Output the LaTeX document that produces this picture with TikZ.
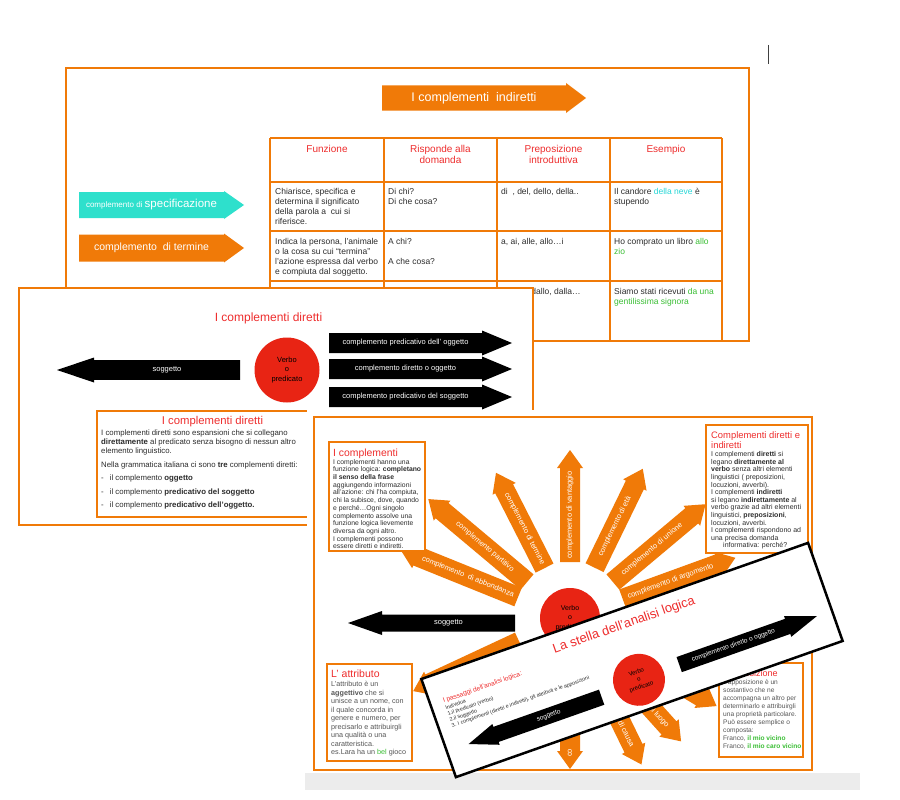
\documentclass[tikz,border=0pt]{standalone}
\usepackage{fontspec}
\setmainfont{Liberation Sans}
\definecolor{slideorange}{RGB}{240,122,8}
\definecolor{titlered}{RGB}{238,45,45}
\definecolor{verbred}{RGB}{232,36,20}
\definecolor{specicyan}{RGB}{46,224,204}
\definecolor{nevecyan}{RGB}{38,214,214}
\definecolor{examplegreen}{RGB}{58,190,52}
\definecolor{bodygray}{RGB}{85,85,85}
\definecolor{bodydark}{RGB}{45,45,45}
\definecolor{screengray}{RGB}{236,236,236}

\newcommand{\fs}[2]{\fontsize{#1}{#2}\selectfont}

\newcommand{\fatarrow}[8]{%
  \begin{scope}[shift={#3}, rotate=#4]
    \fill[#2] (0,-#6) -- ({#5-#8},-#6) -- ({#5-#8},-#7) -- (#5,0) -- ({#5-#8},#7) -- ({#5-#8},#6) -- (0,#6) -- cycle;
    \coordinate (#1) at ({(#5-#8)/2},0);
  \end{scope}}

\newcommand{\starray}[6]{%
  \begin{scope}[shift={(starc)}, rotate=#2]
    \fill[slideorange] (56,-10) -- ({#3-18},-10) -- ({#3-18},-13) -- (#3,0) -- ({#3-18},13) -- ({#3-18},10) -- (56,10) -- cycle;
    \node[raytext, #5] (#1) at (#4,0) {#6};
  \end{scope}}

\begin{document}
\begin{tikzpicture}[x=1pt, y=-1pt, every node/.style={inner sep=0pt},
    slidebox/.style={draw=slideorange, line width=2.5pt, fill=white},
    textbox/.style={draw=slideorange, line width=1.8pt, fill=white},
    tableline/.style={draw=slideorange, line width=1.6pt},
    headtext/.style={anchor=north, align=center, text=titlered, font={\fs{10}{10.7}}},
    celltext/.style={anchor=north west, align=left, text=bodydark, font={\fs{8.5}{10}}},
    boxbody/.style={anchor=north west, align=left},
    arrowtext/.style={text=white, font={\fs{7.5}{9}}},
    raytext/.style={text=white, font={\fs{7.5}{9}}},
    verbcircle/.style={circle, fill=verbred, align=center}]
  \useasboundingbox (0,0) rectangle (900,800);
  \fill[white] (0,0) rectangle (900,800);
  \fill[screengray] (305,773) rectangle (860,790);
  \draw[darkgray, line width=1pt] (768,45) -- (768,64);

  \filldraw[slidebox] (66,68) rectangle (749,341);
  \fatarrow{indirarrow}{slideorange}{(382,98)}{0}{204}{12.5}{15}{20}
  \node[text=white, font={\fs{12.5}{14}}] (indirtitle) at (indirarrow) {I complementi\ \ indiretti};
  \foreach \tx in {270,384,497,610,722} \draw[tableline] (\tx,138) -- (\tx,341);
  \foreach \ty in {138,182,231,281} \draw[tableline] (270,\ty) -- (722,\ty);
  \node[headtext] (hfunz) at (327,145.5) {Funzione};
  \node[headtext] (hrisp) at (440.5,145.5) {Risponde alla\\domanda};
  \node[headtext] (hprep) at (553.5,145.5) {Preposizione\\introduttiva};
  \node[headtext] (hesem) at (666,145.5) {Esempio};
  \node[celltext] (funz1) at (275,188) {Chiarisce, specifica e\\determina il significato\\della parola a\ \ cui si\\riferisce.};
  \node[celltext] (risp1) at (388,188) {Di chi?\\Di che cosa?};
  \node[celltext] (prep1) at (501,188) {di\ \ , del, dello, della..};
  \node[celltext] (esem1) at (614,188) {Il candore \textcolor{nevecyan}{della neve} è\\stupendo};
  \node[celltext] (funz2) at (275,238) {Indica la persona, l’animale\\o la cosa su cui “termina”\\l’azione espressa dal verbo\\e compiuta dal soggetto.};
  \node[celltext] (risp2) at (388,238) {A chi?\\[10pt]A che cosa?};
  \node[celltext] (prep2) at (501,238) {a, ai, alle, allo…i};
  \node[celltext] (esem2) at (614,238) {Ho comprato un libro \textcolor{examplegreen}{allo}\\\textcolor{examplegreen}{zio}};
  \node[celltext] (prep3) at (501,288) {da, dal, dallo, dalla…};
  \node[celltext] (esem3) at (614,288) {Siamo stati ricevuti \textcolor{examplegreen}{da una}\\\textcolor{examplegreen}{gentilissima signora}};
  \fatarrow{specarrow}{specicyan}{(79,205)}{0}{165}{13}{14}{20}
  \node[text=white] (speclab) at (specarrow) {{\fs{8}{9}complemento di }{\fs{11.5}{13}specificazione}};
  \fatarrow{termarrow}{slideorange}{(79,248)}{0}{165}{13.5}{14.5}{20}
  \node[text=white, font={\fs{10.5}{12}}] (termlab) at (termarrow) {complemento\ \ di termine};

  \filldraw[slidebox] (19,288) rectangle (533,525);
  \node[text=titlered, font={\fs{12}{14}}] (dirtitle) at (268.5,318) {I complementi diretti};
  \fatarrow{soggarrow}{black}{(240,370)}{180}{183}{9.8}{12.5}{37}
  \node[arrowtext] (sogglab) at (soggarrow) {soggetto};
  \node[verbcircle, minimum size=65pt, font={\fs{7.5}{9.7}}] (verbo2) at (287,370) {Verbo\\o\\predicato};
  \fatarrow{predogg}{black}{(329,343)}{0}{183}{10}{12.5}{30}
  \node[arrowtext] (predogglab) at (predogg) {complemento predicativo dell’ oggetto};
  \fatarrow{dirogg}{black}{(329,369)}{0}{183}{10}{12.5}{30}
  \node[arrowtext] (dirogglab) at (dirogg) {complemento diretto o oggetto};
  \fatarrow{predsogg}{black}{(329,397)}{0}{183}{10}{12.5}{30}
  \node[arrowtext] (predsogglab) at (predsogg) {complemento predicativo del soggetto};
  \filldraw[textbox] (97,411) rectangle (330,517);
  \node[text=titlered, font={\fs{11.3}{13}}] (dirboxtitle) at (212.5,421.5) {I complementi diretti};
  \node[boxbody, text=bodydark, font={\fs{7.8}{8.6}}] (dirboxtext) at (101,430) {I complementi diretti sono espansioni che si collegano\\\textbf{direttamente} al predicato senza bisogno di nessun altro\\elemento linguistico.\\[5.5pt]Nella grammatica italiana ci sono \textbf{tre} complementi diretti:\\[4.8pt]-\hspace{6pt}il complemento \textbf{oggetto}\\[5.2pt]-\hspace{6pt}il complemento \textbf{predicativo del soggetto}\\[4.6pt]-\hspace{6pt}il complemento \textbf{predicativo dell’oggetto.}};

  \fill[white] (307,410) rectangle (817,773);
  \draw[slideorange, line width=2.5pt] (314,417) rectangle (812,770);
  \coordinate (starc) at (570,618);
  \starray{vantaggio}{90}{168}{103}{rotate=90}{complemento di vantaggio}
  \starray{eta}{64}{166}{102}{rotate=64}{complemento di età}
  \starray{unione}{40}{177}{107}{rotate=40}{complemento di unione}
  \starray{argomento}{20}{176}{107}{rotate=20}{complemento di argomento}
  \starray{termine}{117}{163}{100}{rotate=-63}{complemento di termine}
  \starray{partitivo}{140}{185}{111}{rotate=-40}{complemento partitivo}
  \starray{abbondanza}{158}{183}{110}{rotate=-22}{complemento\ \ di abbondanza}
  \starray{raysw}{205}{173}{105}{}{}
  \starray{raydown}{270}{151}{139}{rotate=90, anchor=west}{co}
  \starray{causa}{296}{163}{143}{rotate=-64, anchor=east}{di causa}
  \starray{luogo}{312}{166}{146}{rotate=-48, anchor=east}{di luogo}
  \starray{rayse}{329}{171}{105}{}{}
  \node[verbcircle, minimum size=60pt, font={\fs{7}{9.5}}] (verbo3) at (starc) {Verbo\\o\\predicato};
  \fatarrow{soggstar}{black}{(515,623)}{180}{167}{8.5}{12}{34}
  \node[arrowtext] (soggstarlab) at (soggstar) {soggetto};

  \filldraw[textbox] (329,442) rectangle (425,551);
  \node[anchor=base west, text=titlered, font={\fs{10.4}{12}}] (compltitle) at (333,456) {I complementi};
  \node[boxbody, text=bodydark, font={\fs{6.8}{7.7}}] (compltext) at (333,459) {I complementi hanno una\\funzione logica: \textbf{completano}\\\textbf{il senso della frase}\\aggiungendo informazioni\\all’azione: chi l’ha compiuta,\\chi la subisce, dove, quando\\e perché…Ogni singolo\\complemento assolve una\\funzione logica lievemente\\diversa da ogni altro.\\I complementi possono\\essere diretti e indiretti.};
  \filldraw[textbox] (706,425) rectangle (808,553);
  \node[boxbody, text=titlered, font={\fs{9.4}{10.2}}] (dirindtitle) at (711,431.5) {Complementi diretti e\\indiretti};
  \node[boxbody, text=bodydark, font={\fs{7}{7.6}}] (dirindtext) at (711,451.5) {I complementi \textbf{diretti} si\\legano \textbf{direttamente al}\\\textbf{verbo} senza altri elementi\\linguistici ( preposizioni,\\locuzioni, avverbi).\\I complementi \textbf{indiretti}\\si legano \textbf{indirettamente} al\\verbo grazie ad altri elementi\\linguistici, \textbf{preposizioni},\\locuzioni, avverbi.\\I complementi rispondono ad\\una precisa domanda\\\hspace*{12pt}informativa: perché?};
  \filldraw[textbox] (327,664) rectangle (412,761);
  \node[anchor=base west, text=titlered, font={\fs{10.5}{12}}] (attribtitle) at (331,677.5) {L’ attributo};
  \node[boxbody, text=bodygray, font={\fs{7.2}{8.5}}] (attribtext) at (331,681) {L’attributo è un\\\textbf{aggettivo} che si\\unisce a un nome, con\\il quale concorda in\\genere e numero, per\\precisarlo e attribuirgli\\una qualità o una\\caratteristica.\\es.Lara ha un \textcolor{examplegreen}{bel} gioco};
  \filldraw[textbox] (719,663) rectangle (803,757);
  \node[anchor=base west, text=titlered, font={\fs{9}{11}}] (appostitle) at (723,676.5) {L’apposizione};
  \node[boxbody, text=bodygray, font={\fs{6.6}{8}}] (appostext) at (723,679) {L’apposizione è un\\sostantivo che ne\\accompagna un altro per\\determinarlo e attribuirgli\\una proprietà particolare.\\Può essere semplice o\\composta:\\Franco, \textcolor{examplegreen}{\textbf{il mio vicino}}\\Franco, \textcolor{examplegreen}{\textbf{il mio caro vicino}}};

  \begin{scope}[shift={(632,660)}, rotate=19.4, transform shape]
    \filldraw[fill=white, draw=black, line width=2.5pt] (-205,-52) rectangle (205,52);
    \node[anchor=base, text=titlered, font={\fs{13}{15}}] (stellatitle) at (4,-32) {La stella dell’analisi logica};
    \node[verbcircle, minimum size=52pt, font={\fs{6}{7.8}}] (verbo4) at (0,21) {Verbo\\o\\predicato};
    \fatarrow{oggetto4}{black}{(43,20)}{0}{146}{8}{11}{31}
    \node[text=white, font={\fs{6.5}{8}}] (oggetto4lab) at (oggetto4) {complemento diretto o oggetto};
    \fatarrow{soggetto4}{black}{(-41,25)}{180}{141}{8}{11}{29}
    \node[text=white, font={\fs{6.5}{8}}] (soggetto4lab) at (soggetto4) {soggetto};
    \node[anchor=base west, text=titlered, font={\fs{6.6}{8}}] (passtitle) at (-192,-22) {I passaggi dell’analisi logica:};
    \node[boxbody, text=bodydark, font={\fs{5.3}{6.3}}] (passtext) at (-192,-18.8) {Individua\\1.il predicato (verbo)\\2.il soggetto\\3. I complementi (diretti e indiretti), gli attributi e le apposizioni};
  \end{scope}
\end{tikzpicture}
\end{document}
